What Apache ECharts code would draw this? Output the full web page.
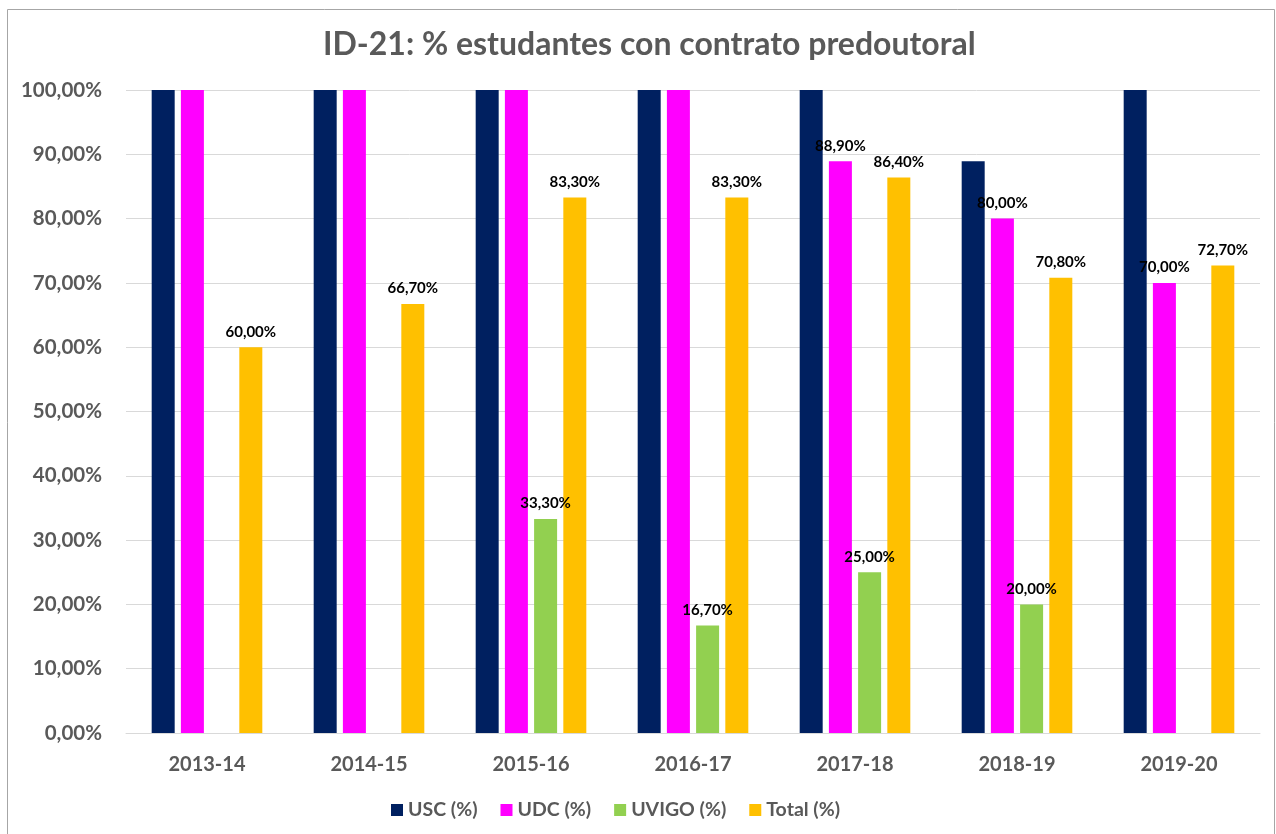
<!DOCTYPE html>
<html><head><meta charset="utf-8">
<script src="https://cdn.jsdelivr.net/npm/echarts@6/dist/echarts.min.js"></script>
<style>html,body{margin:0;padding:0;background:#fff}#c{width:1276px;height:834px}</style>
</head><body><div id="c"></div>
<script>
const categories = ['2013-14','2014-15','2015-16','2016-17','2017-18','2018-19','2019-20'];
const usc   = [100, 100, 100, 100, 100, 88.9, 100];
const udc   = [100, 100, 100, 100, 88.9, 80, 70];
const uvigo = [null, null, 33.3, 16.7, 25, 20, null];
const total = [60, 66.7, 83.3, 83.3, 86.4, 70.8, 72.7];
const seriesNames = ['USC (%)','UDC (%)','UVIGO (%)','Total (%)'];
const yTicks = [0,10,20,30,40,50,60,70,80,90,100];
// which points carry a data label (the 100% bars show none)
const uscLabels   = [false,false,false,false,false,false,false];
const udcLabels   = [false,false,false,false,true,true,true];
const uvigoLabels = [false,false,true,true,true,true,false];
const totalLabels = [true,true,true,true,true,true,true];

const FONT = 'Lato';
const fmt = v => v.toFixed(2).replace('.', ',') + '%';
function mk(vals, flags){
  return vals.map((v,i)=> v==null ? '-' : ({value:v, label:{show:flags[i]}}));
}
const colors = ['#002060','#FF00FF','#92D050','#FFC000'];
const lbl = {position:'top', distance:8, color:'#000', fontFamily:FONT, fontWeight:'bold', fontSize:15,
  formatter:p=>fmt(p.value)};
const chart = echarts.init(document.getElementById('c'), null, {renderer:'canvas'});
const dataSets = [[usc,uscLabels],[udc,udcLabels],[uvigo,uvigoLabels],[total,totalLabels]];
chart.setOption({
  animation:false,
  color:colors,
  title:{text:'ID-21: % estudantes con contrato predoutoral', left:318, top:24,
    textStyle:{fontFamily:FONT, fontWeight:'bold', fontSize:32, color:'#595959'}},
  graphic:[{type:'rect', shape:{x:7.5,y:9.5,width:1267,height:840}, style:{fill:null, stroke:'#A6A6A6', lineWidth:1}, silent:true}],
  legend:{data:seriesNames, left:386, top:795, itemWidth:12, itemHeight:12, itemGap:23,
    icon:'rect', textStyle:{fontFamily:FONT, fontWeight:'bold', fontSize:19.5, color:'#595959'}},
  grid:{left:126, right:16, top:90, bottom:101},
  xAxis:{type:'category', data:categories,
    axisLine:{lineStyle:{color:'#D9D9D9', width:1}}, axisTick:{show:false},
    axisLabel:{fontFamily:FONT, fontWeight:'bold', fontSize:20, color:'#595959', margin:22}},
  yAxis:{type:'value', min:0, max:100, interval:10,
    axisLine:{show:false}, axisTick:{show:false},
    splitLine:{lineStyle:{color:'#D9D9D9', width:1}},
    axisLabel:{fontFamily:FONT, fontWeight:'bold', fontSize:20.5, color:'#595959', margin:24,
      formatter:v=>yTicks.includes(v)?fmt(v):''}},
  series: dataSets.map((d,i)=>({
    name:seriesNames[i], type:'bar', barWidth:23, barGap:'27%',
    data:mk(d[0], d[1]), label:Object.assign({show:false}, lbl)
  }))
});
</script></body></html>
